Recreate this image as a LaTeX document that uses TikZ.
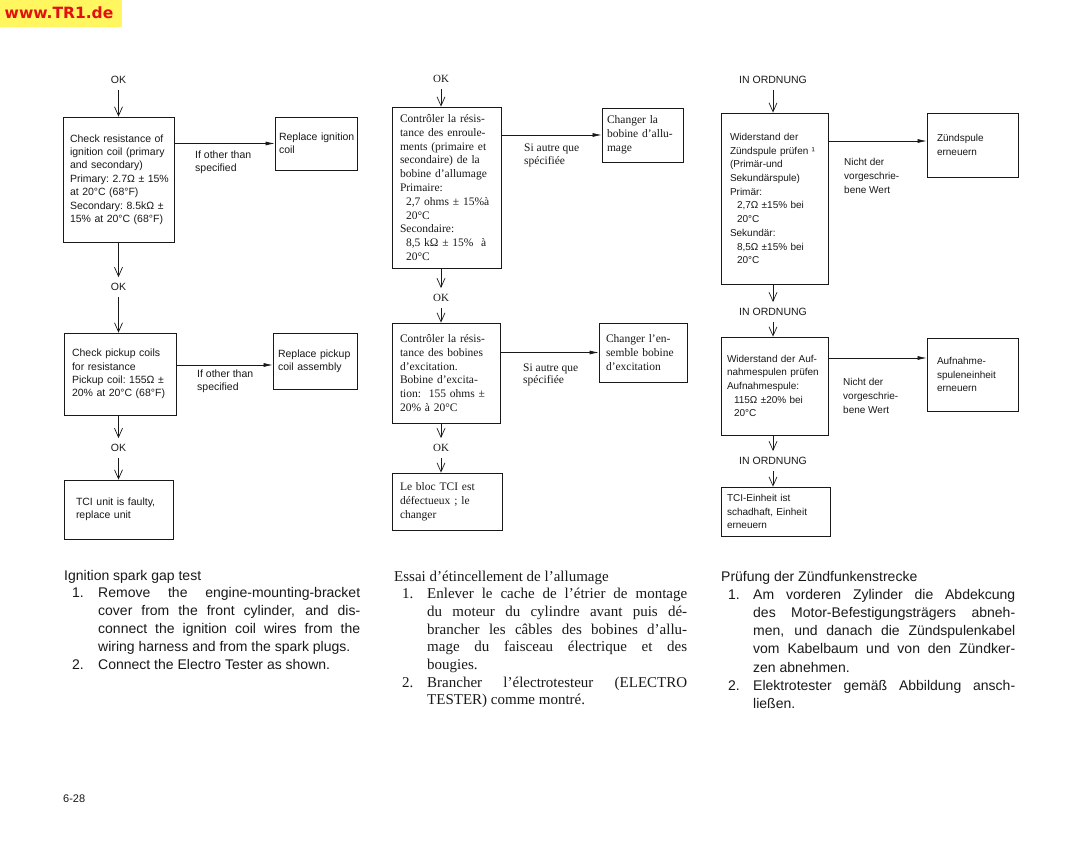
\documentclass[tikz,border=0pt]{standalone}
\usepackage{fontspec}
\setmainfont{Liberation Sans}
\newfontfamily\serif{Liberation Serif}
\newfontfamily\hdrfont{DejaVu Sans}
\usetikzlibrary{arrows.meta,calc}
\definecolor{hdryellow}{RGB}{255,246,96}
\definecolor{hdrred}{RGB}{226,16,16}
\definecolor{ink}{RGB}{25,25,25}
\tikzset{
  nobreak/.style={execute at begin node={\hyphenpenalty=10000\exhyphenpenalty=10000}},
  box/.style={draw=ink, line width=0.75pt, rectangle, inner ysep=0pt, align=left, nobreak, text=ink,
    font=\fontsize{10.5}{13.4}\selectfont},
  sbox/.style={box, font=\serif\fontsize{11.5}{13.8}\selectfont},
  gbox/.style={box, font=\fontsize{10}{13.7}\selectfont},
  lbl/.style={inner xsep=0pt, inner ysep=6pt, text=ink, font=\fontsize{10.5}{12}\selectfont},
  slbl/.style={lbl, font=\serif\fontsize{11}{12}\selectfont},
  side/.style={inner sep=0pt, align=left, anchor=west, text=ink, font=\fontsize{10.5}{13}\selectfont},
  sside/.style={side, font=\serif\fontsize{11.5}{12.8}\selectfont},
  gside/.style={side, font=\fontsize{10}{13.8}\selectfont},
  varrow/.style={draw=ink, line width=0.7pt, -{Straight Barb[length=9pt,width=8pt]}},
  harrow/.style={draw=ink, line width=0.7pt, -{Latex[length=9pt,width=4pt]}},
  para/.style={inner sep=0pt, anchor=base west, align=justify, text=ink,
    execute at begin node={\hyphenpenalty=10000\exhyphenpenalty=10000\tolerance=10000}},
  psans/.style={para, font=\fontsize{14}{17.9}\selectfont},
  pserif/.style={para, font=\serif\fontsize{15}{17.7}\selectfont},
  pger/.style={para, font=\fontsize{14}{18.2}\selectfont},
}
% #1 number, #2 left indent of the text, #3 width of the number field
\newcommand\itm[3]{\leftskip=#2\noindent\hspace*{-#3}\makebox[#3][l]{#1}}
\begin{document}
\begin{tikzpicture}[x=1pt,y=-1pt]
\useasboundingbox (0,0) rectangle (1091,850);
\fill[white] (0,0) rectangle (1091,850);
% header
\fill[hdryellow] (0,0) rectangle (122,27);
\node[inner sep=0pt, text=hdrred, font=\hdrfont\bfseries\fontsize{15.5}{15.5}\selectfont] (hdr) at (59,13) {www.TR1.de};

% ---------------- left column ----------------
\node[lbl] (okA) at (118.5,80) {OK};
\node[box, inner xsep=7pt, text width=97pt, minimum height=125pt] (b1) at (118.5,179.5)
  {Check~resistance~of\\ignition~coil~(primary\\and~secondary)\\Primary:~2.7Ω~±~15\%\\at~20°C~(68°F)\\Secondary:~8.5kΩ~±\\15\%~at~20°C~(68°F)};
\node[box, inner xsep=4pt, text width=74pt, minimum height=53pt] (r1) at (316,143.5)
  {Replace~ignition\\coil};
\node[lbl] (okB) at (118.5,287) {OK};
\node[box, inner xsep=8pt, text width=96pt, minimum height=82pt] (b2) at (120,374)
  {Check~pickup~coils\\for~resistance\\Pickup~coil:~155Ω~±\\20\%~at~20°C~(68°F)};
\node[box, inner xsep=5pt, text width=74pt, minimum height=56pt] (r2) at (315,361)
  {Replace~pickup\\coil~assembly};
\node[lbl] (okC) at (118.5,448) {OK};
\node[box, inner xsep=12pt, text width=85pt, minimum height=59pt] (b3) at (118.5,509.5)
  {TCI~unit~is~faulty,\\replace~unit};
\node[side] (l1) at (195,162.5) {If other than\\specified};
\node[side] (l2) at (197,381.5) {If other than\\specified};

\draw[varrow] (okA) -- (okA |- b1.north);
\draw[varrow] (b1.south -| okB) -- (okB);
\draw[varrow] (okB) -- (okB |- b2.north);
\draw[varrow] (b2.south -| okC) -- (okC);
\draw[varrow] (okC) -- (okC |- b3.north);
\draw[harrow] (b1.east |- r1.west) -- (r1.west);
\coordinate (r2in) at ($(r2.west)+(0,4)$);
\draw[harrow] (b2.east |- r2in) -- (r2in);

% ---------------- middle column ----------------
\node[slbl] (okM1) at (441,79) {OK};
\node[sbox, inner xsep=8pt, text width=93pt, minimum height=161pt] (m1) at (446.5,187.5)
  {Contrôler~la~résis-\\tance~des~enroule-\\ments~(primaire~et\\secondaire)~de~la\\bobine~d’allumage\\Primaire:\\\hspace*{6pt}2,7~ohms~±~15\%à\\\hspace*{6pt}20°C\\Secondaire:\\\hspace*{6pt}8,5~kΩ~±~15\%~~à\\\hspace*{6pt}20°C};
\node[sbox, inner xsep=5pt, text width=71pt, minimum height=54pt] (c1) at (642.5,135)
  {Changer~la\\bobine~d’allu-\\mage};
\node[slbl] (okM2) at (441,298) {OK};
\node[sbox, inner xsep=8pt, text width=92pt, minimum height=100pt] (m2) at (446,373)
  {Contrôler~la~résis-\\tance~des~bobines\\d’excitation.\\Bobine~d’excita-\\tion:~~155~ohms~±\\20\%~à~20°C};
\node[sbox, inner xsep=7pt, text width=74pt, minimum height=59pt] (c2) at (643,352.5)
  {Changer~l’en-\\semble~bobine\\d’excitation};
\node[slbl] (okM3) at (441,448) {OK};
\node[sbox, inner xsep=8pt, text width=94pt, minimum height=57pt] (m3) at (447,501.5)
  {Le~bloc~TCI~est\\défectueux~;~le\\changer};
\node[sside] (l3) at (524,155.5) {Si autre que\\spécifiée};
\node[sside] (l4) at (523,375) {Si autre que\\spécifiée};

\draw[varrow] (okM1) -- (okM1 |- m1.north);
\draw[varrow] (m1.south -| okM2) -- (okM2);
\draw[varrow] (okM2) -- (okM2 |- m2.north);
\draw[varrow] (m2.south -| okM3) -- (okM3);
\draw[varrow] (okM3) -- (okM3 |- m3.north);
\draw[harrow] (m1.east |- c1.west) -- (c1.west);
\draw[harrow] (m2.east |- c2.west) -- (c2.west);

% ---------------- right column ----------------
\node[lbl] (okR1) at (773,80) {IN ORDNUNG};
\node[gbox, inner xsep=9pt, text width=89pt, minimum height=171pt] (g1) at (774.5,198.5)
  {Widerstand~der\\Zündspule~prüfen~¹\\(Primär-und\\Sekundärspule)\\Primär:\\\hspace*{7pt}2,7Ω~±15\%~bei\\\hspace*{7pt}20°C\\Sekundär:\\\hspace*{7pt}8,5Ω~±15\%~bei\\\hspace*{7pt}20°C};
\node[gbox, inner xsep=10pt, text width=71pt, minimum height=64pt] (z1) at (972.5,145)
  {Zündspule\\erneuern};
\node[lbl] (okR2) at (773,312) {IN ORDNUNG};
\node[gbox, inner xsep=6pt, text width=95pt, minimum height=98pt] (g2) at (774.5,386)
  {Widerstand~der~Auf-\\nahmespulen~prüfen\\Aufnahmespule:\\\hspace*{7pt}115Ω~±20\%~bei\\\hspace*{7pt}20°C};
\node[gbox, inner xsep=10pt, text width=71pt, minimum height=73pt] (z2) at (972.5,374.5)
  {Aufnahme-\\spuleneinheit\\erneuern};
\node[lbl] (okR3) at (773,461) {IN ORDNUNG};
\node[gbox, inner xsep=6pt, text width=97pt, minimum height=49pt] (g3) at (775.5,511.5)
  {TCI-Einheit~ist\\schadhaft,~Einheit\\erneuern};
\node[gside] (l5) at (844,176) {Nicht der\\vorgeschrie-\\bene Wert};
\node[gside] (l6) at (843,396) {Nicht der\\vorgeschrie-\\bene Wert};

\draw[varrow] (okR1) -- (okR1 |- g1.north);
\draw[varrow] (g1.south -| okR2) -- (okR2);
\draw[varrow] (okR2) -- (okR2 |- g2.north);
\draw[varrow] (g2.south -| okR3) -- (okR3);
\draw[varrow] (okR3) -- (okR3 |- g3.north);
\coordinate (z1in) at ($(z1.west)+(0,-4)$);
\draw[harrow] (g1.east |- z1in) -- (z1in);
\coordinate (z2in) at ($(z2.west)+(0,-16.5)$);
\draw[harrow] (g2.east |- z2in) -- (z2in);

% ---------------- paragraphs ----------------
\node[psans, text width=296pt] (pl) at (64,580) {Ignition spark gap test\par
\itm{1.}{34pt}{26pt}Remove the engine-mounting-bracket\linebreak cover from the front cylinder, and dis-\linebreak connect the ignition coil wires from the\linebreak wiring harness and from the spark plugs.\par
\itm{2.}{34pt}{26pt}Connect the Electro Tester as shown.\par};

\node[pserif, text width=293pt] (pm) at (394,581) {Essai d’étincellement de l’allumage\par
\itm{1.}{33pt}{25pt}Enlever le cache de l’étrier de montage\linebreak du moteur du cylindre avant puis dé-\linebreak brancher les câbles des bobines d’allu-\linebreak mage du faisceau électrique et des\linebreak bougies.\par
\itm{2.}{33pt}{25pt}Brancher l’électrotesteur (ELECTRO\linebreak TESTER) comme montré.\par};

\node[pger, text width=294pt] (pr) at (721,581) {Prüfung der Zündfunkenstrecke\par
\itm{1.}{32pt}{25pt}Am vorderen Zylinder die Abdekcung\linebreak des Motor-Befestigungsträgers abneh-\linebreak men, und danach die Zündspulenkabel\linebreak vom Kabelbaum und von den Zündker-\linebreak zen abnehmen.\par
\itm{2.}{32pt}{25pt}Elektrotester gemäß Abbildung ansch-\linebreak ließen.\par};

\node[inner sep=0pt, anchor=west, text=ink, font=\fontsize{11}{12}\selectfont] (pg) at (63,799) {6-28};
\end{tikzpicture}
\end{document}
